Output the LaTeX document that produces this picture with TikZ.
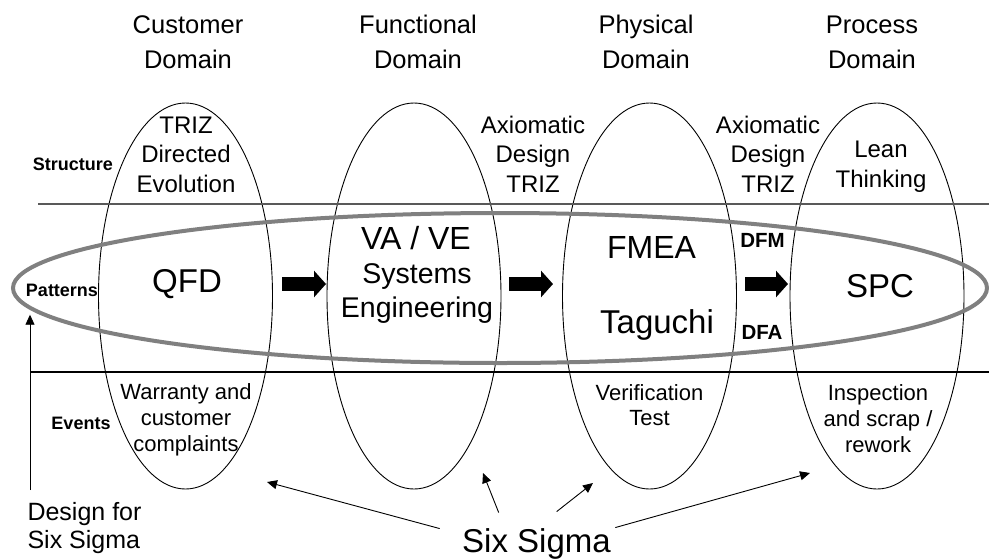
\documentclass[tikz,border=0pt]{standalone}
\usepackage{fontspec}
\setmainfont{Liberation Sans}
\usetikzlibrary{shapes.geometric, arrows.meta, positioning, calc}
\definecolor{bandgray}{RGB}{128, 128, 128}

\begin{document}
\begin{tikzpicture}[
        x=1pt, y=-1pt,
        domell/.style={ellipse, draw, line width=0.9pt, minimum width=174, minimum height=386, inner sep=0},
        patband/.style={ellipse, draw=bandgray, line width=4pt, minimum width=974, minimum height=150, inner sep=0},
        headtxt/.style={font=\fontsize{25.5}{35}\selectfont, align=center, anchor=base},
        notetxt/.style={font=\fontsize{24}{29.5}\selectfont, align=center, anchor=base},
        bigtxt/.style={font=\fontsize{33}{36}\selectfont, anchor=base},
        smalltxt/.style={font=\fontsize{22}{26}\selectfont, align=center, anchor=base},
        lvltxt/.style={font=\fontsize{18}{20}\selectfont\bfseries, anchor=base},
        blockarr/.style={line width=14pt, -{Triangle[length=12pt,width=26pt]}},
        ptr/.style={line width=0.9pt, -{Triangle[length=10pt,width=9pt]}}
    ]
        \useasboundingbox (0,0) rectangle (989,558);

        % domains
        \node[domell] (cust) at (185.5,296) {};
        \node[domell] (func) at (414,296) {};
        \node[domell] (phys) at (649.5,296) {};
        \node[domell] (proc) at (877,296) {};
        \node[patband] (patt) at (500,288) {};

        % level lines
        \draw[line width=1.3pt, black!65] (38,204) -- (989,204);
        \draw[line width=1.1pt] (30,372) -- (989,372);

        % headings (base = last line)
        \node[headtxt] (hcust) at (188,68) {Customer\\Domain};
        \node[headtxt] (hfunc) at (418,68) {Functional\\Domain};
        \node[headtxt] (hphys) at (646,68) {Physical\\Domain};
        \node[headtxt] (hproc) at (872,68) {Process\\Domain};

        % levels
        \node[lvltxt] (lstruct) at (73,170) {Structure};
        \node[lvltxt] (lpatt) at (62,296) {Patterns};
        \node[lvltxt] (levents) at (81,429) {Events};

        % structure row
        \node[notetxt] (tde) at (186,192) {TRIZ\\Directed\\Evolution};
        \node[notetxt] (ax1) at (533,192) {Axiomatic\\Design\\TRIZ};
        \node[notetxt] (ax2) at (768,192) {Axiomatic\\Design\\TRIZ};
        \node[notetxt] (lean) at (881,187) {Lean\\Thinking};

        % patterns row
        \node[bigtxt] (qfd) at (187,292) {QFD};
        \node[bigtxt, font=\fontsize{32}{36}\selectfont] (vave) at (416,249) {VA / VE};
        \node[notetxt, font=\fontsize{28.5}{34}\selectfont] (syseng) at (417,317) {Systems\\Engineering};
        \node[bigtxt, font=\fontsize{32}{36}\selectfont] (fmea) at (651.5,258) {FMEA};
        \node[bigtxt] (tag) at (657,333) {Taguchi};
        \node[lvltxt, font=\fontsize{20.5}{22}\selectfont\bfseries] (dfm) at (762.5,247) {DFM};
        \node[lvltxt, font=\fontsize{20.5}{22}\selectfont\bfseries] (dfa) at (762,339) {DFA};
        \node[bigtxt] (spc) at (880,297) {SPC};

        % events row
        \node[smalltxt] (warr) at (186,451) {Warranty and\\customer\\complaints};
        \node[smalltxt, font=\fontsize{22}{25}\selectfont] (verif) at (649.5,425) {Verification\\Test};
        \node[smalltxt] (insp) at (878,452) {Inspection\\and scrap /\\rework};

        % flow between domains
        \coordinate (b1s) at (282,284);
        \coordinate (b1e) at (326,284);
        \coordinate (b2s) at (509,284);
        \coordinate (b2e) at (553,284);
        \coordinate (b3s) at (745,284);
        \coordinate (b3e) at (788,284);
        \draw[blockarr] (b1s) -- (b1e);
        \draw[blockarr] (b2s) -- (b2e);
        \draw[blockarr] (b3s) -- (b3e);

        % six sigma
        \node[font=\fontsize{25}{28}\selectfont, align=left, anchor=base west] (dfss) at (24,548) {Design for\\Six Sigma};
        \node[bigtxt] (six) at (536.5,552) {Six Sigma};

        \coordinate (dfsstop) at (30,490);
        \draw[ptr] (dfsstop) -- ($(dfsstop |- lpatt.south)+(0,15)$);

        \coordinate (t1) at (267,482);
        \coordinate (t2) at (483,473);
        \coordinate (t3) at (593,483);
        \coordinate (t4) at (810,473);
        \draw[ptr] ([shift={(-19,4)}]six.north west) -- (t1);
        \draw[ptr] ([shift={(40,-12)}]six.north west) -- (t2);
        \draw[ptr] ([shift={(98,-13)}]six.north west) -- (t3);
        \draw[ptr] ([shift={(1,3)}]six.north east) -- (t4);
\end{tikzpicture}
\end{document}
